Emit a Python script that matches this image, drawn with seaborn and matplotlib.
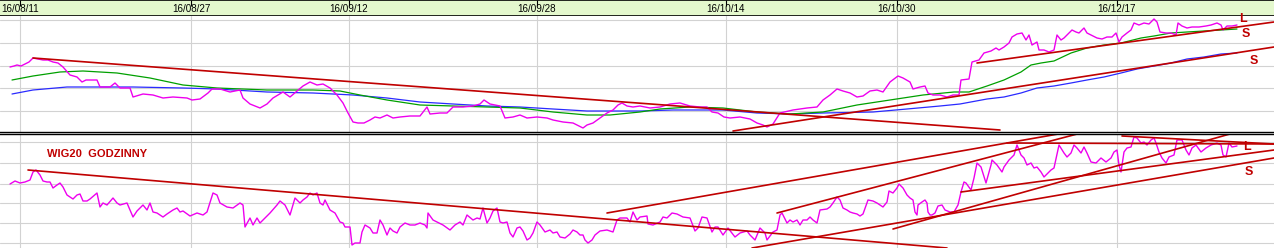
import numpy as np
import pandas as pd
import matplotlib
matplotlib.use("Agg")
import matplotlib.pyplot as plt
import seaborn as sns
from matplotlib import font_manager

# ---------------- data ----------------
date_labels = ["16/08/11", "16/08/27", "16/09/12", "16/09/28", "16/10/14", "16/10/30", "16/12/17"]
date_pos = [20, 191, 349, 537, 726, 897, 1117]

# upper panel (WIG20, price + moving averages), bar index vs level
top_x = [10, 14, 17, 21, 25, 29, 33, 38, 43, 48, 53, 58, 63, 70, 77, 82, 86, 90, 97, 100, 110, 115, 120, 130,
         133, 143, 153, 163, 173, 187, 192, 200, 208, 212, 220, 230, 240, 243, 250, 260, 267, 273, 283, 290,
         297, 303, 310, 317, 323, 330, 337, 343, 348, 353, 358, 364, 370, 375, 380, 387, 393, 400, 410, 420,
         427, 430, 440, 447, 453, 463, 473, 480, 484, 490, 500, 505, 513, 520, 527, 537, 547, 553, 563, 573,
         583, 587, 593, 600, 607, 613, 618, 622, 627, 633, 640, 650, 660, 670, 680, 690, 700, 707, 712, 718,
         724, 730, 740, 750, 757, 763, 767, 773, 780, 793, 807, 817, 823, 830, 837, 843, 850, 857, 863, 870,
         877, 883, 890, 898, 903, 910, 913, 920, 925, 928, 933, 940, 947, 953, 959, 961, 969, 972, 979, 984,
         991, 996, 999, 1004, 1009, 1012, 1017, 1022, 1026, 1029, 1032, 1037, 1039, 1044, 1049, 1054, 1057,
         1061, 1064, 1069, 1072, 1076, 1079, 1084, 1087, 1091, 1097, 1102, 1107, 1112, 1116, 1119, 1122, 1127,
         1131, 1134, 1139, 1144, 1149, 1154, 1157, 1160, 1166, 1171, 1176, 1178, 1182, 1187, 1192, 1199, 1206,
         1211, 1217, 1221, 1223, 1227, 1232, 1237]
top_price = [64, 65, 66, 65, 67, 69, 73, 72, 71, 71, 69, 68, 64, 56, 54, 49, 51, 51, 51, 44, 44, 48, 43, 43,
             34, 37, 36, 33, 34, 33, 31, 32, 38, 42, 42, 39, 41, 33, 27, 23, 27, 33, 39, 34,
             40, 45, 49, 46, 47, 43, 36, 28, 18, 9, 8, 8, 11, 14, 13, 16, 13, 14, 15, 15,
             24, 17, 18, 18, 24, 24, 25, 27, 31, 27, 25, 13, 14, 16, 13, 14, 13, 11, 9, 8,
             3, 6, 8, 13, 18, 21, 26, 28, 25, 24, 25, 23, 24, 27, 28, 25, 24, 24, 19, 18,
             14, 13, 14, 12, 8, 6, 4, 7, 18, 21, 23, 24, 31, 36, 42, 40, 38, 34, 35, 40,
             41, 39, 49, 55, 53, 49, 42, 44, 45, 38, 36, 36, 34, 36, 36, 51, 52, 69, 71, 78,
             80, 83, 81, 84, 88, 94, 97, 98, 91, 96, 86, 89, 81, 81, 79, 81, 96,
             91, 93, 98, 101, 99, 98, 103, 98, 96, 93, 92, 94, 94, 98, 89, 94, 98,
             101, 108, 106, 108, 107, 112, 109, 99, 98, 98, 96, 108, 105, 103, 104, 104, 105,
             106, 108, 106, 101, 105, 105, 106]

green_x = [12, 33, 60, 83, 117, 150, 183, 217, 267, 313, 340, 360, 387, 420, 453, 487, 520, 553, 587, 610,
           640, 660, 690, 723, 757, 790, 823, 857, 890, 923, 954, 969, 987, 1004, 1021, 1031, 1041, 1054,
           1071, 1087, 1104, 1121, 1141, 1154, 1171, 1187, 1221, 1237]
green_ma = [51, 55, 59, 60, 58, 53, 46, 43, 41, 41, 40, 36, 31, 26, 25, 24, 23, 19, 16, 16,
            19, 22, 24, 23, 19, 17, 19, 26, 31, 36, 39, 39, 45, 51, 59, 66, 68, 70,
            78, 83, 86, 88, 93, 95, 98, 99, 101, 102]

blue_x = [12, 33, 67, 83, 133, 183, 217, 267, 313, 353, 387, 420, 453, 487, 520, 553, 587, 640, 673, 723,
          757, 790, 823, 873, 907, 940, 960, 987, 1004, 1021, 1037, 1054, 1071, 1087, 1104, 1121, 1137,
          1154, 1171, 1187, 1204, 1221, 1237]
blue_ma = [37, 41, 44, 44, 44, 43, 42, 39, 38, 36, 33, 29, 27, 25, 24, 22, 20, 20, 21, 21,
           18, 17, 18, 19, 22, 25, 27, 32, 34, 38, 43, 45, 48, 51, 54, 58, 62,
           65, 68, 72, 74, 77, 78]

# trend lines of the upper panel: (x0, v0, x1, v1)
top_trend_x0 = [33, 733, 977]
top_trend_v0 = [73, 0, 68]
top_trend_x1 = [1000, 1274, 1274]
top_trend_v1 = [1, 84, 109]

# lower panel (WIG20 hourly)
bot_x = [10, 15, 20, 25, 30, 33, 36, 40, 43, 47, 50, 53, 57, 60, 63, 67, 73, 77, 80, 83, 87, 90, 97, 100,
         103, 107, 113, 117, 120, 127, 133, 137, 143, 147, 150, 153, 157, 163, 167, 173, 177, 180, 183, 190,
         197, 203, 207, 213, 217, 220, 227, 233, 240, 243, 245, 250, 253, 257, 260, 265, 270, 277, 280, 285,
         290, 295, 300, 303, 307, 310, 313, 317, 320, 323, 325, 330, 335, 340, 343, 345, 350, 352, 355, 360,
         362, 365, 370, 373, 377, 380, 383, 387, 390, 393, 397, 400, 405, 410, 415, 420, 425, 427, 428, 433,
         437, 443, 450, 455, 460, 463, 467, 473, 477, 480, 483, 487, 490, 493, 497, 500, 503, 507, 510, 513,
         517, 520, 523, 527, 530, 533, 537, 540, 545, 550, 553, 557, 560, 565, 570, 573, 577, 580, 583, 585,
         588, 592, 595, 600, 607, 613, 617, 620, 627, 630, 633, 637, 640, 647, 648, 653, 660, 663, 667, 672,
         677, 683, 690, 695, 698, 702, 707, 712, 715, 718, 723, 728, 735, 740, 747, 750, 755, 760, 765, 767,
         773, 777, 780, 782, 787, 790, 793, 797, 800, 803, 807, 810, 813, 817, 820, 827, 830, 833, 837, 840,
         843, 847, 850, 853, 857, 860, 863, 868, 873, 877, 880, 883, 887, 889, 893, 897, 899, 903, 907, 910,
         913, 915, 917, 918, 922, 925, 927, 928, 930, 932, 935, 938, 942, 945, 950, 954, 958, 961, 964, 966,
         971, 974, 977, 981, 986, 991, 992, 997, 1002, 1004, 1009, 1014, 1017, 1021, 1024, 1027, 1031, 1034,
         1037, 1041, 1044, 1051, 1054, 1059, 1064, 1067, 1071, 1074, 1077, 1081, 1084, 1087, 1091, 1096, 1101,
         1106, 1111, 1114, 1117, 1119, 1121, 1124, 1127, 1131, 1134, 1137, 1141, 1144, 1147, 1151, 1154, 1156,
         1159, 1162, 1166, 1169, 1174, 1177, 1182, 1186, 1189, 1192, 1196, 1201, 1206, 1211, 1217, 1221, 1223,
         1226, 1229, 1232, 1237]
bot_price = [64, 67, 65, 66, 68, 76, 78, 73, 67, 66, 66, 60, 63, 65, 61, 53, 49, 53, 54, 47, 47, 49, 55, 41,
             45, 43, 50, 45, 43, 45, 31, 37, 43, 38, 45, 36, 35, 31, 34, 38, 40, 36, 37, 32,
             35, 33, 36, 55, 53, 45, 41, 40, 45, 43, 21, 30, 23, 30, 25, 30, 35, 43, 47, 43,
             33, 50, 45, 48, 51, 55, 53, 55, 45, 43, 48, 38, 35, 26, 25, 21, 21, 3, 5, 5,
             16, 23, 20, 15, 15, 28, 23, 13, 20, 17, 15, 21, 25, 23, 23, 25, 23, 20, 35, 28,
             26, 23, 18, 23, 26, 23, 33, 28, 30, 29, 40, 25, 30, 37, 40, 26, 25, 26, 15, 11,
             20, 21, 17, 8, 10, 15, 26, 23, 16, 18, 15, 16, 11, 10, 14, 18, 16, 13, 13, 8,
             5, 8, 13, 17, 18, 16, 28, 30, 30, 26, 36, 28, 31, 32, 24, 23, 26, 31, 30, 35,
             34, 31, 30, 17, 20, 31, 30, 16, 21, 21, 13, 20, 11, 15, 17, 13, 8, 20, 15, 8,
             16, 18, 33, 35, 25, 28, 26, 28, 23, 28, 28, 31, 28, 25, 38, 39, 41, 45, 51, 48,
             40, 38, 36, 35, 34, 32, 34, 48, 47, 45, 43, 41, 46, 57, 55, 60, 64, 60, 53, 50,
             48, 36, 33, 43, 46, 48, 45, 36, 33, 33, 35, 42, 43, 38, 36, 36, 43, 56, 66, 65,
             58, 70, 85, 81, 65, 83, 88, 83, 76, 81, 88, 93, 103, 93, 90, 83, 85, 80,
             81, 76, 71, 78, 80, 103, 95, 91, 95, 103, 100, 95, 101, 95, 86, 85, 90,
             86, 90, 96, 98, 83, 76, 96, 100, 101, 111, 110, 105, 106, 103, 108, 110, 105,
             96, 90, 85, 91, 93, 108, 108, 98, 93, 100, 103, 96, 100, 103, 105, 103, 93,
             91, 105, 101, 102]

# trend lines of the lower panel: (x0, v0, x1, v1)
bot_trend_x0 = [28, 607, 777, 752, 893, 961, 1007, 1122]
bot_trend_v0 = [78, 35, 35, 0, 19, 56, 105, 112]
bot_trend_x1 = [947, 1064, 1081, 1274, 1237, 1274, 1274, 1274]
bot_trend_v1 = [0, 115, 115, 90, 116, 98, 104, 104]

panel_title = "WIG20  GODZINNY"
top_marks = [("L", 1243, 112), ("S", 1246, 97), ("S", 1254, 70)]
bot_marks = [("L", 1247, 101), ("S", 1249, 76)]

# ---------------- style ----------------
sns.set_theme(style="white")
names = {f.name for f in font_manager.fontManager.ttflist}
plt.rcParams['font.family'] = ['Liberation Sans', 'DejaVu Sans']
date_font = 'Liberation Sans Narrow' if 'Liberation Sans Narrow' in names else 'Liberation Sans'
date_size = 8 if date_font == 'Liberation Sans Narrow' else 7.1

MAGENTA = '#ee00ee'
RED = '#c00000'
GREEN = '#00a000'
BLUE = '#2a2aff'
GRID = '#d2d2d2'
HEADER = '#e4f8cd'

W, H = 1274, 248
fig = plt.figure(figsize=(W / 100, H / 100), dpi=100)
fig.patch.set_facecolor('white')

hdr = fig.add_axes([0, 1 - 16 / H, 1, 16 / H], zorder=0)
top = fig.add_axes([0, (H - 131.5) / H, 1, 115.5 / H], zorder=2)
bot = fig.add_axes([0, 0, 1, 114.5 / H], zorder=1)

# header with dates
hdr.set_facecolor(HEADER)
hdr.set_xlim(0, W)
hdr.set_ylim(0, 1)
hdr.set_yticks([])
hdr.set_xticks(date_pos)
hdr.tick_params(axis='x', top=True, bottom=False, direction='in', length=4, width=0.8,
                color='black', labelbottom=False, labeltop=False)
for lab, xp in zip(date_labels, date_pos):
    hdr.text(xp, 0.45, lab, ha='center', va='center', fontsize=date_size,
             family=[date_font, 'DejaVu Sans'], color='black')
for s in ['left', 'right']:
    hdr.spines[s].set_visible(False)
for s in ['top', 'bottom']:
    hdr.spines[s].set_color('black')
    hdr.spines[s].set_linewidth(1.2)


def style_panel(ax, ylim, yticks, spine):
    ax.set_facecolor('white')
    ax.set_xlim(0, W)
    ax.set_ylim(*ylim)
    ax.set_xticks(date_pos)
    ax.set_yticks(yticks)
    ax.tick_params(length=0, labelbottom=False, labelleft=False)
    ax.set_xticklabels([])
    ax.set_yticklabels([])
    ax.grid(True, color=GRID, linewidth=0.8)
    ax.set_axisbelow(True)
    for s in ['left', 'right', 'top', 'bottom']:
        ax.spines[s].set_visible(s == spine)
    ax.spines[spine].set_color('black')
    ax.spines[spine].set_linewidth(1.0)
    ax.set_xlabel('')
    ax.set_ylabel('')


def trend_frame(x0, v0, x1, v1):
    rows = []
    for i, (a, b, c, d) in enumerate(zip(x0, v0, x1, v1)):
        rows.append({'x': a, 'v': b, 'line': i})
        rows.append({'x': c, 'v': d, 'line': i})
    return pd.DataFrame(rows)


# upper panel
sns.lineplot(x=blue_x, y=blue_ma, ax=top, color=BLUE, linewidth=0.9, estimator=None, sort=False)
sns.lineplot(x=green_x, y=green_ma, ax=top, color=GREEN, linewidth=0.9, estimator=None, sort=False)
sns.lineplot(x=top_x, y=top_price, ax=top, color=MAGENTA, linewidth=1.0, estimator=None, sort=False)
sns.lineplot(data=trend_frame(top_trend_x0, top_trend_v0, top_trend_x1, top_trend_v1),
             x='x', y='v', units='line', estimator=None, sort=False, ax=top,
             color=RED, linewidth=1.2, legend=False)
style_panel(top, (-0.5, 115), [111, 88, 65, 43, 20], 'bottom')
for t, xp, yp in top_marks:
    top.text(xp, yp, t, ha='center', va='center', color=RED, fontsize=9, fontweight='bold',
             clip_on=False, zorder=10)

# lower panel
sns.lineplot(x=bot_x, y=bot_price, ax=bot, color=MAGENTA, linewidth=1.0, estimator=None, sort=False)
sns.lineplot(data=trend_frame(bot_trend_x0, bot_trend_v0, bot_trend_x1, bot_trend_v1),
             x='x', y='v', units='line', estimator=None, sort=False, ax=bot,
             color=RED, linewidth=1.2, legend=False)
style_panel(bot, (0, 114.5), [106, 85, 64, 45, 25, 5], 'top')
bot.text(47, 94, panel_title, ha='left', va='center', color=RED, fontsize=8, fontweight='bold')
for t, xp, yp in bot_marks:
    bot.text(xp, yp, t, ha='center', va='center', color=RED, fontsize=9, fontweight='bold',
             clip_on=False, zorder=10)

fig.savefig('out.png', dpi=100, facecolor='white')
